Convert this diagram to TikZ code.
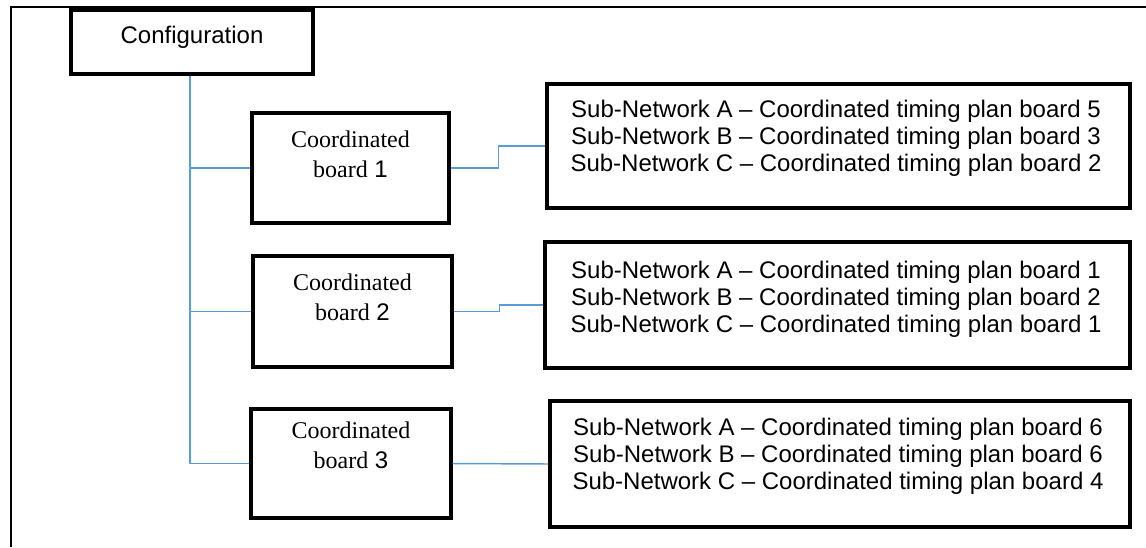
\documentclass[tikz,border=0pt]{standalone}
\usepackage{fontspec}
\setmainfont{Liberation Sans}
\newfontfamily\tnr{Liberation Serif}
\usetikzlibrary{calc}

\definecolor{linkblue}{RGB}{91,155,213}

\tikzset{
  box/.style={draw=black, line width=2.3pt, rectangle, inner sep=0pt},
  link/.style={draw=linkblue, line width=1.1pt},
  txt/.style={anchor=base, align=center, inner sep=0pt},
}

\begin{document}
\begin{tikzpicture}[x=0.75pt, y=-0.75pt]
  \useasboundingbox (0,0) rectangle (1146,547);

  % frame
  \draw[line width=1.6pt] (11,547) |- (1146,7);

  \coordinate (trunk) at (190,0);

  \node[box, minimum width=181.5pt, minimum height=48pt] (conf) at (192,42) {};
  \node[box, minimum width=147.75pt, minimum height=82.5pt] (b1) at (350.5,168) {};
  \node[box, minimum width=149.25pt, minimum height=83.25pt] (b2) at (352.5,311.5) {};
  \node[box, minimum width=150pt, minimum height=81.75pt] (b3) at (351,463.5) {};
  \node[box, minimum width=437.25pt, minimum height=93pt] (s1) at (838.5,146) {};
  \node[box, minimum width=438.75pt, minimum height=94.5pt] (s2) at (837.5,305) {};
  \node[box, minimum width=435pt, minimum height=94.5pt] (s3) at (840,464) {};

  % text (base = last line)
  \node[txt, font=\fontsize{18}{22}\selectfont] (conftxt) at (192,43) {Configuration};

  \node[txt, font=\fontsize{18}{22}\selectfont] (b1txt) at (350.5,177) {{\tnr Coordinated}\\{\tnr board} 1};
  \node[txt, font=\fontsize{18}{22}\selectfont] (b2txt) at (352.5,320) {{\tnr Coordinated}\\{\tnr board} 2};
  \node[txt, font=\fontsize{18}{22}\selectfont] (b3txt) at (351,468) {{\tnr Coordinated}\\{\tnr board} 3};

  \node[txt, font=\fontsize{18}{20.25}\selectfont] (s1txt) at (836,171)
    {Sub-Network A -- Coordinated timing plan board 5\\Sub-Network B -- Coordinated timing plan board 3\\Sub-Network C -- Coordinated timing plan board 2};
  \node[txt, font=\fontsize{18}{20.25}\selectfont] (s2txt) at (836,332)
    {Sub-Network A -- Coordinated timing plan board 1\\Sub-Network B -- Coordinated timing plan board 2\\Sub-Network C -- Coordinated timing plan board 1};
  \node[txt, font=\fontsize{18}{20.25}\selectfont] (s3txt) at (838,489)
    {Sub-Network A -- Coordinated timing plan board 6\\Sub-Network B -- Coordinated timing plan board 6\\Sub-Network C -- Coordinated timing plan board 4};

  % tree
  \draw[link] (trunk |- conf.south) -- (trunk |- b3.west);
  \draw[link] (trunk |- b1.west) -- (b1.west);
  \draw[link] (trunk |- b2.west) -- (b2.west);
  \draw[link] (trunk |- b3.west) -- (b3.west);

  \draw[link] (b1.east) -- ++(48,0) |- (s1.west);
  \draw[link] (b2.east) -- ++(46,0) |- (s2.west);
  \draw[link] (b3.east) -- (s3.west);
\end{tikzpicture}
\end{document}
